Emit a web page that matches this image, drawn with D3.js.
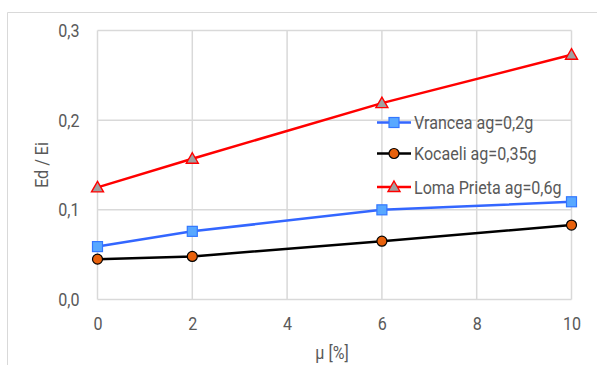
<!DOCTYPE html>
<html>
<head>
<meta charset="utf-8">
<script src="https://cdn.jsdelivr.net/npm/d3@7"></script>
<style>
body{margin:0;background:#fff;}
text{font-family:Roboto,"Liberation Sans",sans-serif;fill:#595959;}
</style>
</head>
<body>
<svg id="chart" width="597" height="365"></svg>
<script>
const xValues = [0, 2, 6, 10];
const vrancea = [0.059, 0.076, 0.100, 0.109];
const kocaeli = [0.045, 0.048, 0.065, 0.083];
const lomaPrieta = [0.125, 0.157, 0.219, 0.273];
const seriesNames = ["Vrancea ag=0,2g", "Kocaeli ag=0,35g", "Loma Prieta ag=0,6g"];
const xTicks = [0, 2, 4, 6, 8, 10];
const yTicks = [0, 0.1, 0.2, 0.3];
const xTitle = "μ [%]";
const yTitle = "Ed / Ei";

const FS = "18.5px", SX = 0.87;
const svg = d3.select("#chart");
const W = 597, H = 365;
svg.append("rect").attr("width", W).attr("height", H).attr("fill", "#fff");
svg.append("path").attr("d", `M7.5,${H+2}V12.5H${W+2}`).attr("fill","none").attr("stroke","#d9d9d9").attr("stroke-width",1);

const x = d3.scaleLinear().domain([0, 10]).range([97.5, 571.5]);
const y = d3.scaleLinear().domain([0, 0.3]).range([299.5, 30.5]);

const fmt = d => d3.format(".1f")(d).replace(".", ",");

const g = svg.append("g");
g.selectAll(".hg").data(yTicks).join("line")
  .attr("x1", x(0)).attr("x2", x(10)).attr("y1", d => y(d)).attr("y2", d => y(d))
  .attr("stroke", "#d9d9d9").attr("stroke-width", 1.5);
g.selectAll(".vg").data(xTicks).join("line")
  .attr("y1", y(0)).attr("y2", y(0.3)).attr("x1", d => x(d)).attr("x2", d => x(d))
  .attr("stroke", "#d9d9d9").attr("stroke-width", 1.5);

const yAxis = svg.append("g").attr("transform", `translate(${x(0)},0)`)
  .call(d3.axisLeft(y).tickValues(yTicks).tickFormat(fmt).tickSize(0).tickPadding(18));
yAxis.select(".domain").remove();
yAxis.selectAll("text").style("font-size", FS).attr("fill", "#595959")
  .attr("x", -18 / SX).attr("transform", `scale(${SX},1)`);

const xAxis = svg.append("g").attr("transform", `translate(0,${y(0)})`)
  .call(d3.axisBottom(x).tickValues(xTicks).tickFormat(d3.format("d")).tickSize(0).tickPadding(17));
xAxis.select(".domain").remove();
xAxis.selectAll("text").style("font-size", FS).attr("fill", "#595959")
  .attr("transform", `scale(${SX},1)`);

svg.append("text").attr("transform", `translate(332,359) scale(${SX},1)`).attr("text-anchor", "middle")
  .style("font-size", FS).text(xTitle);
svg.append("text").attr("transform", `translate(48,165) rotate(-90) scale(${SX},1)`).attr("text-anchor", "middle")
  .style("font-size", FS).text(yTitle);

const series = [
  {name: seriesNames[0], values: vrancea, color: "#3366ff", marker: "square", fill: "#58a8ff", mstroke: "#3377ff"},
  {name: seriesNames[1], values: kocaeli, color: "#000000", marker: "circle", fill: "#e8610c", mstroke: "#000000"},
  {name: seriesNames[2], values: lomaPrieta, color: "#ff0000", marker: "triangle", fill: "#a0a0a0", mstroke: "#ff0000"}
];

const line = d3.line().x(d => x(d[0])).y(d => y(d[1]));

function drawMarker(sel, s) {
  if (s.marker === "square") {
    sel.append("rect").attr("x", -5).attr("y", -5).attr("width", 10).attr("height", 10)
      .attr("fill", s.fill).attr("stroke", s.mstroke).attr("stroke-width", 1.2);
  } else if (s.marker === "circle") {
    sel.append("circle").attr("r", 5).attr("fill", s.fill).attr("stroke", s.mstroke).attr("stroke-width", 1.2);
  } else {
    sel.append("path").attr("d", "M0,-6L6,4.5L-6,4.5Z").attr("fill", s.fill).attr("stroke", s.mstroke).attr("stroke-width", 1.4);
  }
}

series.forEach(s => {
  const pts = xValues.map((xv, i) => [xv, s.values[i]]);
  svg.append("path").datum(pts).attr("d", line).attr("fill", "none")
    .attr("stroke", s.color).attr("stroke-width", 2.5);
  pts.forEach(p => {
    const m = svg.append("g").attr("transform", `translate(${x(p[0])},${y(p[1])})`);
    drawMarker(m, s);
  });
});

const legY = [122.5, 153.5, 187];
series.forEach((s, i) => {
  const lg = svg.append("g").attr("transform", `translate(377,${legY[i]})`);
  lg.append("line").attr("x1", 0).attr("x2", 34).attr("stroke", s.color).attr("stroke-width", 2.5);
  const m = lg.append("g").attr("transform", "translate(17,0)");
  drawMarker(m, s);
  lg.append("text").attr("transform", `translate(37,0) scale(${SX},1)`).attr("dy", "0.36em")
    .style("font-size", FS).text(s.name);
});
</script>
</body>
</html>
